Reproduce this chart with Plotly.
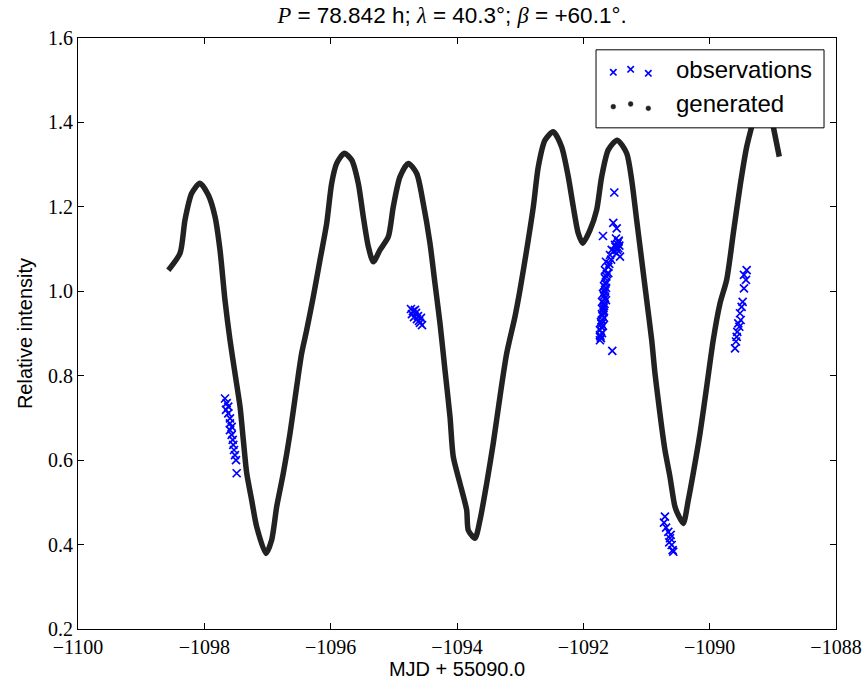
import plotly.graph_objects as go

# Model lightcurve (days relative to MJD 55090.0, relative intensity)
gen_mjd = [-1098.570, -1098.385, -1098.306, -1098.200, -1098.069, -1097.937, -1097.831, -1097.752,
           -1097.673, -1097.594, -1097.515, -1097.435, -1097.383, -1097.329, -1097.250, -1097.171,
           -1097.024, -1096.934, -1096.854, -1096.750, -1096.644, -1096.538, -1096.459, -1096.380,
           -1096.275, -1096.169, -1096.063, -1095.984, -1095.905, -1095.784, -1095.667, -1095.563,
           -1095.484, -1095.404, -1095.325, -1095.219, -1095.088, -1095.009, -1094.903, -1094.771,
           -1094.638, -1094.534, -1094.428, -1094.349, -1094.269, -1094.190, -1094.111, -1094.059,
           -1093.953, -1093.847, -1093.821, -1093.715, -1093.636, -1093.530, -1093.426, -1093.320,
           -1093.213, -1093.082, -1093.003, -1092.897, -1092.792, -1092.713, -1092.607, -1092.476,
           -1092.343, -1092.238, -1092.159, -1092.080, -1092.010, -1091.895, -1091.789, -1091.710,
           -1091.605, -1091.463, -1091.314, -1091.235, -1091.156, -1091.076, -1090.997, -1090.918,
           -1090.866, -1090.814, -1090.760, -1090.708, -1090.629, -1090.550, -1090.497, -1090.418,
           -1090.339, -1090.260, -1090.153, -1090.047, -1089.943, -1089.837, -1089.731, -1089.626,
           -1089.520, -1089.414, -1089.335, -1089.251, -1089.156, -1089.077, -1088.993, -1088.898]
gen_int = [1.050, 1.090, 1.169, 1.232, 1.256, 1.228, 1.177, 1.098,
           0.979, 0.885, 0.806, 0.727, 0.648, 0.569, 0.505, 0.442,
           0.379, 0.411, 0.490, 0.569, 0.663, 0.774, 0.853, 0.908,
           0.987, 1.074, 1.161, 1.256, 1.303, 1.327, 1.311, 1.256,
           1.177, 1.106, 1.070, 1.098, 1.129, 1.200, 1.271, 1.303,
           1.279, 1.208, 1.114, 1.019, 0.924, 0.813, 0.703, 0.608,
           0.545, 0.482, 0.434, 0.415, 0.458, 0.545, 0.640, 0.750,
           0.853, 0.940, 1.003, 1.098, 1.200, 1.295, 1.358, 1.378,
           1.342, 1.271, 1.200, 1.137, 1.114, 1.145, 1.193, 1.271,
           1.335, 1.358, 1.327, 1.264, 1.169, 1.074, 0.979, 0.885,
           0.806, 0.742, 0.679, 0.624, 0.561, 0.490, 0.470, 0.450,
           0.505, 0.569, 0.663, 0.774, 0.885, 0.971, 1.027, 1.137,
           1.248, 1.342, 1.390, 1.441, 1.465, 1.453, 1.390, 1.319]

# Photometric observations, one list per night
obs1_mjd = [-1097.673, -1097.646, -1097.621, -1097.657, -1097.621, -1097.594, -1097.594, -1097.567,
            -1097.594, -1097.567, -1097.551, -1097.542, -1097.530, -1097.515, -1097.499, -1097.488]
obs1_int = [0.746, 0.735, 0.727, 0.719, 0.711, 0.699, 0.687, 0.679,
            0.671, 0.660, 0.648, 0.636, 0.624, 0.612, 0.600, 0.569]

obs2_mjd = [-1094.729, -1094.697, -1094.665, -1094.713, -1094.649, -1094.618,
            -1094.681, -1094.634, -1094.602, -1094.570, -1094.586, -1094.554]
obs2_int = [0.958, 0.953, 0.956, 0.946, 0.949, 0.941,
            0.939, 0.934, 0.930, 0.937, 0.925, 0.920]

obs3_mjd = [-1091.510, -1091.526, -1091.472, -1091.689, -1091.483, -1091.447, -1091.499, -1091.447,
            -1091.551, -1091.472, -1091.578, -1091.420, -1091.642, -1091.605, -1091.657, -1091.605,
            -1091.626, -1091.657, -1091.642, -1091.673, -1091.657, -1091.642, -1091.689, -1091.673,
            -1091.657, -1091.705, -1091.642, -1091.673, -1091.689, -1091.705, -1091.673, -1091.705,
            -1091.721, -1091.689, -1091.737, -1091.705, -1091.737, -1091.721, -1091.737, -1091.542,
            -1091.713, -1091.697, -1091.681, -1091.665, -1091.650, -1091.634, -1091.729, -1091.713,
            -1091.681, -1091.665, -1091.590, -1091.560, -1091.520, -1091.490, -1091.460, -1091.440,
            -1091.430, -1091.465]
obs3_int = [1.234, 1.162, 1.149, 1.131, 1.125, 1.117, 1.110, 1.102,
            1.098, 1.090, 1.086, 1.082, 1.070, 1.058, 1.050, 1.043,
            1.041, 1.031, 1.022, 1.012, 1.003, 1.008, 0.994, 0.989,
            0.984, 0.975, 0.979, 0.965, 0.956, 0.946, 0.937, 0.932,
            0.927, 0.918, 0.908, 0.901, 0.896, 0.889, 0.884, 0.859,
            0.915, 0.942, 0.960, 0.998, 1.018, 1.035, 0.893, 0.923,
            0.950, 0.970, 1.065, 1.075, 1.095, 1.105, 1.112, 1.120,
            1.108, 1.098]

obs4_mjd = [-1090.708, -1090.723, -1090.690, -1090.655, -1090.617, -1090.628, -1090.640,
            -1090.601, -1090.586, -1090.576]
obs4_int = [0.466, 0.452, 0.440, 0.430, 0.423, 0.415, 0.405, 0.399, 0.387, 0.383]

obs5_mjd = [-1089.414, -1089.457, -1089.425, -1089.457, -1089.478, -1089.494, -1089.520,
            -1089.509, -1089.547, -1089.531, -1089.563, -1089.572, -1089.583, -1089.599]
obs5_int = [1.050, 1.039, 1.027, 1.007, 0.975, 0.963, 0.948,
            0.932, 0.924, 0.916, 0.904, 0.892, 0.881, 0.865]

obs_mjd = obs1_mjd + obs2_mjd + obs3_mjd + obs4_mjd + obs5_mjd
obs_int = obs1_int + obs2_int + obs3_int + obs4_int + obs5_int

x_ticks = [-1100, -1098, -1096, -1094, -1092, -1090, -1088]
y_ticks = [0.2, 0.4, 0.6, 0.8, 1.0, 1.2, 1.4, 1.6]

assert len(gen_mjd) == len(gen_int)
assert len(obs_mjd) == len(obs_int)

CURVE = "#222222"
OBS = "#0000ff"
SERIF = "Liberation Serif"
SANS = "Liberation Sans"

fig = go.Figure()

fig.add_trace(go.Scatter(
    x=gen_mjd, y=gen_int, mode="lines", name="generated",
    line=dict(color=CURVE, width=5.5, shape="spline", smoothing=0.7),
    showlegend=False,
))

fig.add_trace(go.Scatter(
    x=obs_mjd, y=obs_int, mode="markers", name="observations",
    marker=dict(symbol="x-thin", size=8, line=dict(color=OBS, width=1.7)),
    showlegend=False,
))

# Legend box drawn with three sample markers per entry
shapes = [dict(type="rect", xref="paper", yref="paper",
               x0=0.6834, x1=0.9842, y0=0.848, y1=0.980,
               fillcolor="white", line=dict(color="black", width=1), layer="above")]

cross_pos = [(0.7062, 0.9420), (0.7291, 0.9470), (0.7524, 0.9403)]
dot_pos = [(0.7062, 0.8838), (0.7291, 0.8883), (0.7524, 0.8810)]
for cx, cy in cross_pos:
    shapes.append(dict(type="path", xref="paper", yref="paper",
                       xsizemode="pixel", ysizemode="pixel", xanchor=cx, yanchor=cy,
                       path="M-3.2,-3.2 L3.2,3.2 M-3.2,3.2 L3.2,-3.2",
                       line=dict(color=OBS, width=1.7), layer="above"))
for cx, cy in dot_pos:
    shapes.append(dict(type="circle", xref="paper", yref="paper",
                       xsizemode="pixel", ysizemode="pixel", xanchor=cx, yanchor=cy,
                       x0=-2.4, x1=2.4, y0=-2.4, y1=2.4,
                       fillcolor=CURVE, line=dict(color=CURVE, width=0.5), layer="above"))

annotations = [
    dict(text="observations", x=0.7867, y=0.947, xref="paper", yref="paper",
         xanchor="left", yanchor="middle", showarrow=False,
         font=dict(family=SANS, size=24, color="black")),
    dict(text="generated", x=0.7867, y=0.8895, xref="paper", yref="paper",
         xanchor="left", yanchor="middle", showarrow=False,
         font=dict(family=SANS, size=24, color="black")),
]

sym = "<i><span style=\"font-family:'Liberation Serif'\">%s</span></i>"
title_text = (sym % "P") + " = 78.842 h; " + (sym % "λ") + " = 40.3°; " + \
             (sym % "β") + " = +60.1°."

axis_common = dict(
    showgrid=False, zeroline=False, automargin=False,
    showline=True, linecolor="black", linewidth=1, mirror="ticks",
    ticks="inside", ticklen=6, tickwidth=1, tickcolor="black",
    tickfont=dict(family=SERIF, size=20, color="black"),
)

fig.update_layout(
    width=866, height=681, autosize=False,
    margin=dict(l=78, r=30, t=38, b=52),
    paper_bgcolor="white", plot_bgcolor="white",
    title=dict(text=title_text, x=0.522, xanchor="center", y=0.978, yanchor="middle",
               yref="container", font=dict(family=SANS, size=22.5, color="black")),
    xaxis=dict(range=[-1100, -1088], tickvals=x_ticks, **axis_common,
               title=dict(text="MJD + 55090.0", standoff=0,
                          font=dict(family=SANS, size=20, color="black"))),
    yaxis=dict(range=[0.2, 1.6], tickvals=y_ticks, tickformat=".1f", **axis_common,
               title=dict(text="Relative intensity", standoff=10,
                          font=dict(family=SANS, size=20, color="black"))),
    shapes=shapes,
    annotations=annotations,
    showlegend=False,
)

fig.write_html("out.html")
